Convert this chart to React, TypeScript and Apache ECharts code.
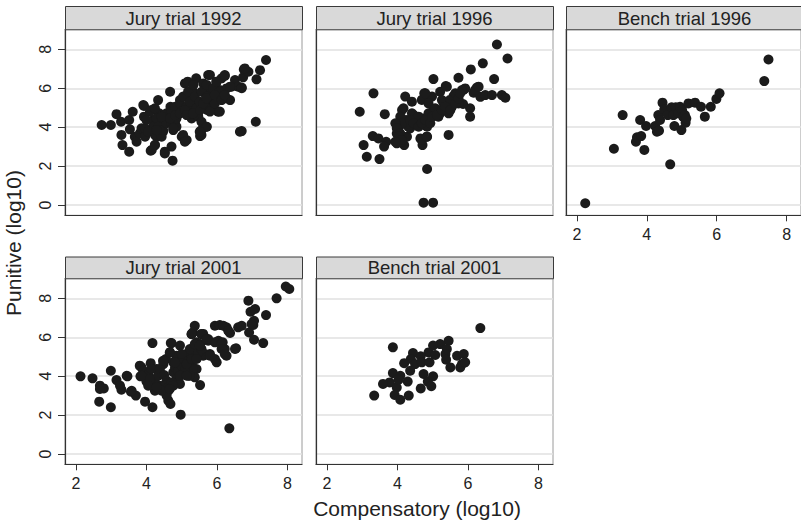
import React, { useEffect, useRef } from "react";
import * as echarts from "echarts";

const panelTitles = ["Jury trial 1992", "Jury trial 1996", "Bench trial 1996", "Jury trial 2001", "Bench trial 2001"];
const xTicks = [2, 4, 6, 8];
const yTicks = [0, 2, 4, 6, 8];
const xTitle = "Compensatory (log10)";
const yTitle = "Punitive (log10)";

const jury1992: number[][] = [
  [2.73, 4.11], [2.99, 4.11], [3.15, 4.67], [3.28, 4.28], [3.51, 4.37], [3.61, 4.79], [3.29, 3.6], [3.32, 3.08],
  [3.51, 2.74], [3.53, 3.89], [3.67, 3.51], [3.72, 3.25], [3.81, 3.68], [3.86, 3.94], [3.93, 5.09], [3.93, 4.54],
  [3.96, 3.51], [4.12, 2.79], [4.14, 4.88], [4.19, 4.37], [4.19, 4.02], [4.24, 3.08], [4.29, 3.51], [4.33, 5.39],
  [4.36, 4.71], [4.38, 4.11], [4.47, 3.77], [4.52, 2.65], [4.57, 4.71], [4.62, 4.28], [4.67, 5.82], [4.68, 5.05],
  [4.71, 3.0], [4.74, 2.28], [4.76, 3.85], [4.81, 4.2], [4.85, 4.02], [4.95, 5.39], [5.0, 3.51], [5.02, 5.05],
  [5.09, 6.25], [5.14, 3.34], [5.17, 6.34], [5.18, 5.57], [5.23, 4.97], [5.28, 4.45], [5.32, 5.82], [5.37, 5.39],
  [5.41, 6.51], [5.46, 4.71], [5.52, 3.54], [5.56, 3.85], [5.61, 6.25], [5.66, 5.74], [5.7, 4.02], [5.72, 4.88],
  [5.75, 6.68], [5.78, 5.39], [5.8, 6.68], [5.85, 5.91], [5.89, 5.05], [5.98, 6.34], [6.03, 4.79], [6.08, 5.91],
  [6.13, 6.51], [6.18, 5.57], [6.22, 6.63], [6.27, 5.99], [6.37, 5.39], [6.41, 6.08], [6.51, 6.42], [6.6, 6.08],
  [6.7, 6.04], [6.7, 3.8], [6.74, 6.56], [6.76, 6.97], [6.89, 6.85], [7.1, 4.28], [7.12, 6.46], [7.22, 6.93],
  [7.39, 7.45],
  [3.91, 5.14], [3.96, 3.94], [4.1, 4.8], [4.24, 4.97], [4.29, 4.45], [4.33, 4.02], [4.24, 3.6], [4.43, 3.51],
  [4.47, 3.85], [4.57, 4.2], [4.52, 4.62], [4.71, 4.8], [4.71, 4.2], [4.76, 3.94], [4.85, 4.45], [4.81, 5.05],
  [4.95, 5.22], [5.0, 4.8], [5.04, 5.57], [5.14, 5.05], [5.18, 5.82], [5.23, 5.31], [5.28, 4.71], [5.33, 6.17],
  [5.37, 5.57], [5.42, 4.97], [5.47, 4.54], [5.51, 5.31], [5.56, 5.82], [5.56, 4.28], [5.66, 5.14], [5.71, 5.57],
  [5.71, 6.17], [5.8, 4.8], [5.85, 5.48], [5.89, 6.0], [5.94, 5.22], [5.99, 6.34], [6.08, 5.82], [6.22, 6.68],
  [6.27, 5.48], [6.37, 6.08], [6.7, 6.0], [6.79, 7.02], [6.08, 4.8], [6.65, 3.77], [5.56, 3.6], [5.71, 4.02],
  [5.51, 3.77], [5.04, 3.6], [5.09, 3.25], [4.52, 2.74], [4.15, 2.83], [4.24, 3.08],
  [4.0, 4.37], [4.05, 3.77], [4.29, 3.85], [4.43, 4.54], [4.67, 4.45], [4.81, 4.62], [4.95, 4.71], [5.09, 4.88],
  [5.14, 4.62], [5.32, 4.71], [5.52, 4.88], [5.61, 5.22], [5.7, 5.48], [5.94, 5.65], [6.13, 5.39], [6.22, 5.65],
];

const jury1996: number[][] = [
  [6.82, 8.25], [7.12, 7.53], [6.42, 7.28], [6.08, 6.97], [5.73, 6.54], [5.02, 6.47], [6.74, 6.47], [5.37, 6.11],
  [3.32, 5.74], [2.93, 4.79], [3.64, 4.67], [4.22, 5.57], [4.41, 5.31], [4.76, 5.74], [4.84, 5.39], [4.98, 5.57],
  [5.21, 5.82], [5.26, 5.39], [5.59, 5.6], [5.87, 5.91], [5.92, 5.99], [6.25, 6.04], [6.16, 5.77], [6.35, 5.56],
  [6.49, 5.65], [6.68, 5.65], [6.96, 5.65], [7.06, 5.51], [6.06, 4.97], [6.06, 4.54], [5.86, 5.19], [3.3, 3.54],
  [3.04, 3.08], [3.46, 3.42], [3.13, 2.48], [3.49, 2.36], [3.68, 3.25], [3.62, 3.0], [3.98, 3.17], [4.19, 3.08],
  [4.03, 3.77], [4.08, 4.11], [4.12, 4.45], [4.17, 4.97], [4.27, 3.51], [4.65, 3.42], [4.71, 3.08], [4.84, 3.51],
  [4.84, 1.85], [4.74, 0.12], [5.01, 0.12], [5.45, 3.6], [4.46, 4.62], [4.55, 4.2], [4.69, 4.45], [4.88, 4.71],
  [5.02, 4.88], [5.21, 4.71], [5.4, 4.88], [5.54, 5.05], [5.69, 5.39], [4.84, 4.02], [4.36, 3.94], [4.27, 4.2],
  [4.5, 4.28],
  [4.13, 4.88], [4.08, 4.54], [4.03, 4.02], [3.98, 3.68], [4.08, 3.43], [4.13, 3.25], [4.27, 4.37], [4.31, 4.02],
  [4.41, 4.71], [4.5, 4.2], [4.6, 4.54], [4.69, 5.4], [4.79, 5.74], [4.88, 5.22], [4.88, 4.62], [5.07, 4.97],
  [5.16, 4.54], [5.31, 5.22], [5.4, 6.08], [5.45, 4.71], [5.49, 5.4], [5.64, 5.74], [5.73, 5.22], [5.83, 5.91],
  [6.2, 5.91], [6.3, 6.08], [4.69, 3.34], [4.83, 3.51], [4.13, 4.2],
  [3.94, 4.2], [3.98, 3.94], [4.08, 3.68], [4.03, 3.51], [4.12, 3.34], [3.94, 3.25], [4.36, 4.37], [4.46, 4.2],
  [4.6, 4.02], [4.69, 4.2], [4.79, 4.37], [4.93, 4.2], [4.98, 4.54], [5.12, 4.62], [5.26, 4.88], [5.35, 5.05],
  [5.5, 4.88], [5.64, 5.22], [5.73, 5.48], [5.78, 5.74],
];

const bench1996: number[][] = [
  [2.24, 0.09], [3.06, 2.89], [3.31, 4.62], [3.69, 3.25], [3.72, 3.48], [3.84, 3.54], [3.81, 4.37], [3.93, 2.83],
  [3.98, 4.06], [4.24, 4.06], [4.29, 3.77], [4.35, 3.82], [4.33, 4.62], [4.38, 4.37], [4.45, 5.26], [4.5, 4.91],
  [4.6, 4.62], [4.67, 2.09], [4.71, 5.02], [4.76, 4.62], [4.79, 4.06], [4.83, 5.02], [4.9, 4.71], [4.95, 5.05],
  [4.99, 3.85], [5.01, 4.88], [5.04, 4.54], [5.09, 4.62], [5.11, 4.23], [5.13, 4.45], [5.19, 5.22], [5.38, 5.26],
  [5.55, 5.05], [5.66, 4.54], [5.83, 5.05], [5.99, 5.45], [6.08, 5.74], [7.36, 6.37], [7.48, 7.48],
];

const jury2001: number[][] = [
  [2.13, 3.99], [2.47, 3.89], [2.68, 3.51], [2.68, 3.34], [2.79, 3.37], [2.66, 2.69], [2.99, 2.4], [2.99, 4.28],
  [3.15, 3.8], [3.29, 3.3], [3.46, 3.99], [3.56, 3.2], [3.7, 3.0], [3.83, 3.99], [3.86, 4.45], [3.96, 2.69],
  [4.0, 3.72], [4.17, 5.7], [4.17, 2.4], [4.12, 4.67], [4.19, 3.6], [4.24, 3.25], [4.29, 4.37], [4.38, 3.51],
  [4.48, 4.62], [4.55, 4.88], [4.62, 3.25], [4.62, 2.74], [4.68, 2.57], [4.67, 5.22], [4.71, 5.7], [4.76, 4.2],
  [4.85, 3.85], [4.95, 5.57], [4.97, 2.02], [4.95, 3.6], [5.02, 4.71], [5.14, 5.05], [5.19, 4.02], [5.28, 6.16],
  [5.33, 5.39], [5.37, 6.59], [5.42, 4.37], [5.52, 3.54], [5.52, 5.65], [5.56, 6.16], [5.61, 5.05], [5.75, 5.91],
  [5.8, 5.14], [5.94, 6.59], [5.99, 4.71], [6.04, 5.82], [6.08, 6.63], [6.16, 5.74], [6.22, 5.39], [6.27, 6.51],
  [6.27, 5.05], [6.37, 6.22], [6.35, 1.32], [6.54, 5.43], [6.6, 6.51], [6.7, 6.59], [6.89, 7.88], [6.91, 6.25],
  [6.95, 7.31], [7.03, 6.63], [7.05, 6.85], [7.08, 7.45], [7.05, 5.87], [7.31, 5.7], [7.39, 7.14], [7.69, 8.0],
  [7.95, 8.61], [8.05, 8.48],
  [6.18, 6.59], [6.32, 6.34], [6.98, 6.68], [5.32, 6.25], [5.61, 6.17], [5.75, 5.82], [5.94, 5.74], [6.13, 5.65],
  [6.13, 5.4], [6.22, 5.14], [6.51, 5.4], [5.42, 5.74], [5.47, 5.4], [5.37, 5.05], [5.66, 5.14], [5.8, 5.05],
  [5.94, 4.88], [5.28, 4.54], [5.32, 4.37], [5.37, 3.94], [5.23, 4.02],
  [3.81, 4.54], [3.91, 4.28], [4.05, 4.11], [4.14, 4.37], [4.24, 3.85], [4.33, 4.02], [4.38, 4.37], [4.5, 4.06],
  [4.57, 3.77], [4.52, 3.51], [4.62, 3.42], [4.71, 3.68], [4.76, 4.71], [4.81, 4.45], [4.85, 5.05], [4.9, 4.28],
  [5.0, 4.54], [5.04, 4.88], [5.09, 4.28], [5.14, 4.62], [5.19, 5.22], [5.23, 5.39], [5.28, 4.88], [5.42, 5.57],
  [5.47, 5.22], [5.56, 5.39], [4.95, 4.02], [4.76, 3.51], [4.57, 3.0], [4.43, 3.25],
  [5.28, 6.17], [5.56, 6.17], [4.69, 5.7], [5.37, 5.65], [4.66, 5.22], [5.0, 5.14], [5.51, 5.57], [5.7, 5.91],
  [4.47, 4.79], [4.81, 4.71], [5.42, 4.88], [3.86, 4.02], [4.1, 3.85], [5.14, 4.02], [4.05, 3.51], [4.29, 3.43],
  [4.66, 3.34], [3.44, 4.02], [3.25, 3.51], [3.58, 3.25],
];

const bench2001: number[][] = [
  [6.35, 6.47], [5.45, 5.82], [5.21, 5.65], [5.01, 5.57], [4.88, 5.22], [5.07, 5.09], [5.4, 5.39], [5.36, 5.14],
  [5.38, 4.85], [5.5, 4.45], [5.69, 5.05], [5.88, 5.14], [5.83, 4.62], [5.78, 4.45], [5.92, 4.71], [3.87, 5.48],
  [4.44, 5.19], [4.38, 4.88], [4.19, 4.67], [4.5, 4.62], [4.66, 5.02], [4.69, 4.71], [4.91, 4.71], [4.36, 4.28],
  [3.87, 4.16], [4.08, 4.02], [3.78, 3.68], [3.59, 3.6], [3.98, 3.42], [4.29, 3.72], [3.34, 3.0], [3.92, 3.03],
  [4.08, 2.79], [4.32, 3.0], [4.74, 4.11], [4.86, 3.72], [5.01, 3.99], [4.96, 3.48], [4.66, 3.37], [4.03, 3.82],
];

const panelData = [jury1992, jury1996, bench1996, jury2001, bench2001];

const lefts = [65, 316, 566, 65, 316];
const tops = [29.3, 29.3, 29.3, 278.3, 278.3];
const W = 237;
const H = 186;
const showX = [false, false, true, true, true];
const showY = [true, false, false, true, false];
const FONT = "'Liberation Sans', Arial, Helvetica, sans-serif";

export default function App() {
  const ref = useRef<HTMLDivElement>(null);
  useEffect(() => {
    if (!ref.current) return;
    const chart = echarts.init(ref.current, null, { renderer: "svg" });
    const grids = panelData.map((_, i) => ({
      left: lefts[i],
      top: tops[i],
      width: W,
      height: H,
      show: true,
      backgroundColor: "#ffffff",
      borderColor: "#9a9a9a",
      borderWidth: 1,
      containLabel: false,
    }));
    const xAxes = panelData.map((_, i) => ({
      type: "value",
      gridIndex: i,
      min: 1.69,
      max: 8.41,
      axisLine: { show: true, onZero: false, lineStyle: { color: "#333", width: 1.2 } },
      axisTick: { show: showX[i], customValues: xTicks, length: 6, lineStyle: { color: "#333" } },
      axisLabel: { show: showX[i], customValues: xTicks, margin: 11, fontSize: 16, color: "#222", fontFamily: FONT },
      splitLine: { show: false },
    }));
    const yAxes = panelData.map((_, i) => ({
      type: "value",
      gridIndex: i,
      min: -0.53,
      max: 9.03,
      axisLine: { show: true, onZero: false, lineStyle: { color: "#333", width: 1.2 } },
      axisTick: { show: showY[i], customValues: yTicks, length: 7, lineStyle: { color: "#333" } },
      axisLabel: { show: showY[i], customValues: yTicks, rotate: 90, margin: 12, fontSize: 16, color: "#222", fontFamily: FONT },
      splitLine: { show: true, lineStyle: { color: "#e0e0e0", width: 1.5 } },
    }));
    const series = panelData.map((d, i) => ({
      type: "scatter",
      xAxisIndex: i,
      yAxisIndex: i,
      data: d,
      symbol: "circle",
      symbolSize: 10,
      itemStyle: { color: "#1b1b1b", opacity: 1 },
      silent: true,
    }));
    const graphics: any[] = [];
    panelData.forEach((_, i) => {
      const stripH = i < 3 ? 23.3 : 21.8;
      graphics.push({
        type: "rect",
        left: lefts[i],
        top: tops[i] - stripH,
        shape: { x: 0, y: 0, width: W, height: stripH },
        style: { fill: "#d9d9d9", stroke: "#3a3a3a", lineWidth: 1 },
        z: 10,
      });
      graphics.push({
        type: "text",
        x: lefts[i] + W / 2,
        y: tops[i] - stripH / 2 + 0.5,
        style: {
          text: panelTitles[i],
          fontSize: 18.5,
          fontFamily: FONT,
          fill: "#222",
          align: "center",
          verticalAlign: "middle",
        },
        z: 11,
      });
    });
    graphics.push({
      type: "text",
      x: 417,
      y: 508,
      style: { text: xTitle, fontSize: 21, fontFamily: FONT, fill: "#222", align: "center", verticalAlign: "middle" },
    });
    graphics.push({
      type: "text",
      x: 13,
      y: 243,
      rotation: Math.PI / 2,
      style: { text: yTitle, fontSize: 21, fontFamily: FONT, fill: "#222", align: "center", verticalAlign: "middle" },
    });
    chart.setOption({
      animation: false,
      backgroundColor: "#ffffff",
      grid: grids,
      xAxis: xAxes,
      yAxis: yAxes,
      series,
      graphic: graphics,
    } as any);
    return () => chart.dispose();
  }, []);
  return <div ref={ref} style={{ position: "fixed", left: 0, top: 0, width: 801, height: 522 }} />;
}
